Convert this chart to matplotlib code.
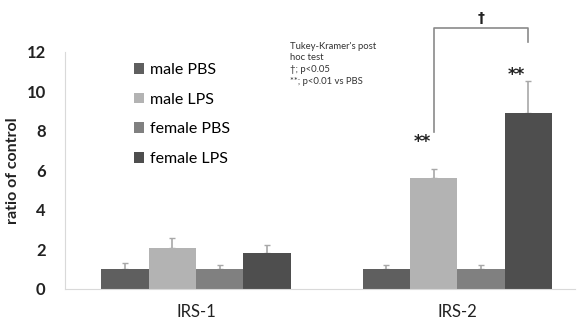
import matplotlib
matplotlib.use("Agg")
import matplotlib.pyplot as plt
import numpy as np

plt.rcParams['font.family'] = ['Lato', 'DejaVu Sans']

# data
genes = ["IRS-1", "IRS-2"]
groups = ["male PBS", "male LPS", "female PBS", "female LPS"]
means = {
    "male PBS":   [1.0, 1.0],
    "male LPS":   [2.07, 5.6],
    "female PBS": [1.0, 1.0],
    "female LPS": [1.8, 8.9],
}
errs = {
    "male PBS":   [0.3, 0.2],
    "male LPS":   [0.5, 0.45],
    "female PBS": [0.2, 0.2],
    "female LPS": [0.4, 1.6],
}
colors = ["#5f5f5f", "#b3b3b3", "#808080", "#4e4e4e"]

fig = plt.figure(figsize=(5.82, 3.2), dpi=100)
ax = fig.add_axes([0.112, 0.097, 0.876, 0.741])

x = np.arange(len(genes))
w = 0.181
for i, g in enumerate(groups):
    pos = x + (i - 1.5) * w
    ax.bar(pos, means[g], width=w, color=colors[i], label=g, zorder=2)
    ax.errorbar(pos, means[g], yerr=[np.zeros(len(genes)), errs[g]],
                fmt="none", ecolor="#a8a8a8", elinewidth=1.2, capsize=2, capthick=1, zorder=1)

ax.set_xlim(-0.5, 1.45)
ax.set_ylim(0, 12)
ax.set_yticks(range(0, 13, 2))
ax.set_yticklabels([str(v) for v in range(0, 13, 2)], fontsize=12, fontweight="bold", color="#222222")
ax.set_xticks(x)
ax.set_xticklabels(genes, fontsize=12, color="#222222")
ax.tick_params(length=0)
ax.tick_params(axis="x", pad=11)
ax.tick_params(axis="y", pad=14)
for s in ["top", "right"]:
    ax.spines[s].set_visible(False)
for s in ["left", "bottom"]:
    ax.spines[s].set_color("#d9d9d9")
ax.set_ylabel("ratio of control", fontsize=11.5, fontweight="bold", color="#222222", labelpad=5)

ax.legend(loc="upper left", bbox_to_anchor=(0.216, 0.828), bbox_transform=fig.transFigure,
          frameon=False, fontsize=11.5, handlelength=0.65, handleheight=0.65,
          handletextpad=0.35, labelspacing=0.98, borderpad=0)

fig.text(0.498, 0.87, "Tukey-Kramer's post\nhoc test\n\u2020; p<0.05\n**; p<0.01 vs PBS",
         fontsize=6.8, va="top", ha="left", linespacing=1.4, color="#333333")

# significance marks
star_y = [7.45, 10.85]
for xi, yi in zip([x[1] - 0.5 * w, x[1] + 1.5 * w], star_y):
    ax.text(xi - 0.045, yi, "**", ha="center", va="center", fontsize=12, fontweight="bold",
            color="#222222", family=["DejaVu Sans"])

bx0, bx1 = x[1] - 0.5 * w, x[1] + 1.5 * w
ax.plot([bx0, bx0, bx1, bx1], [7.95, 13.2, 13.2, 12.5], color="#8a8a8a", lw=1.2, clip_on=False)
ax.text((bx0 + bx1) / 2, 13.7, "\u2020", ha="center", va="center", fontsize=10,
        fontweight="bold", color="#222222", family=["DejaVu Sans"])

fig.savefig("out.png", dpi=100)
